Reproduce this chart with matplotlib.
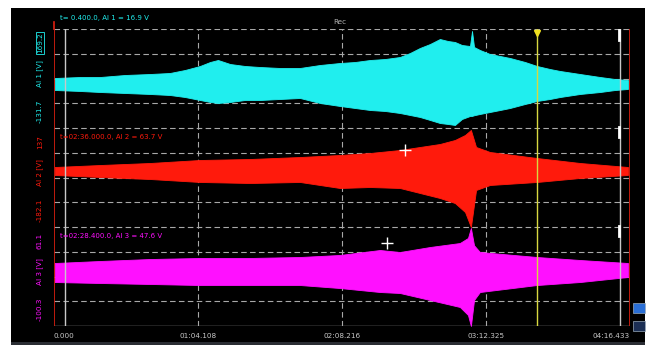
import matplotlib
matplotlib.use("Agg")
import matplotlib.pyplot as plt
from matplotlib.patches import Rectangle
import numpy as np

# ---------------- data ----------------
t_end = 256.433
time_ticks = [0.0, 64.108, 128.216, 192.325, 256.433]
time_labels = ["0.000", "01:04.108", "02:08.216", "03:12.325", "04:16.433"]

# channel 1 (AI 1) envelope, volts
t1 = [0.4, 11.6, 20.5, 31.6, 42.7, 51.6, 58.3, 65.0, 69.5, 73.0, 78.4, 85.0, 91.7,
      100.6, 109.5, 118.4, 127.3, 134.0, 140.7, 147.4, 154.0, 158.5, 162.9, 167.4,
      171.8, 175.4, 178.5, 181.6, 185.2, 186.1, 187.0, 189.6, 194.1, 198.6, 203.0,
      209.7, 215.0, 220.8, 225.3, 234.2, 243.1, 249.8, 255.5]
ai1_hi = [20.3, 23.3, 23.3, 29.4, 32.4, 35.5, 44.6, 56.8, 68.9, 75.0, 62.8, 56.8, 53.7,
          50.7, 50.7, 59.8, 65.9, 68.9, 75.0, 78.0, 84.1, 96.3, 111.5, 123.6,
          138.8, 132.7, 129.7, 120.6, 117.5, 163.1, 114.5, 105.4, 93.2, 87.1, 81.1,
          68.9, 56.8, 47.6, 41.6, 32.4, 23.3, 17.2, 14.2]
ai1_lo = [-16.2, -19.2, -22.3, -25.3, -28.3, -31.4, -37.5, -46.6, -52.6, -55.7, -52.6, -46.6, -46.6,
          -43.5, -40.5, -55.7, -64.8, -70.9, -77.0, -80.0, -86.1, -92.2, -98.2, -107.3,
          -116.5, -119.5, -122.5, -104.3, -95.2, -95.0, -93.0, -89.1, -83.0, -77.0, -70.9,
          -58.7, -49.6, -43.5, -37.5, -28.3, -22.3, -16.2, -13.1]

# channel 2 (AI 2) envelope, volts
t2 = [0.4, 20.5, 42.7, 65.0, 87.3, 109.5, 127.3, 140.7, 154.0, 162.9, 171.8, 178.5,
      183.0, 185.6, 187.9, 194.1, 215.0, 234.2, 255.5]
ai2_hi = [11.3, 17.7, 24.2, 33.9, 37.1, 43.5, 50.0, 56.4, 66.1, 75.8, 85.5, 98.4,
          114.5, 130.6, 75.8, 59.6, 40.3, 24.2, 11.3]
ai2_lo = [-14.5, -20.9, -27.4, -37.0, -40.3, -37.0, -56.4, -53.2, -56.4, -72.5, -88.6, -104.8,
          -133.8, -182.1, -62.8, -46.7, -37.0, -24.1, -14.5]

# channel 3 (AI 3) envelope, volts
t3 = [0.4, 20.5, 42.7, 65.0, 87.3, 109.5, 127.3, 145.1, 154.0, 167.4, 180.7, 184.3,
      185.6, 187.0, 189.6, 215.0, 234.2, 255.5]
ai3_hi = [2.4, 5.7, 8.9, 10.6, 10.6, 12.2, 15.5, 23.6, 20.3, 28.5, 35.0, 43.2,
          59.5, 31.3, 20.3, 12.2, 7.3, 2.4]
ai3_lo = [-28.6, -30.2, -31.8, -33.5, -33.5, -33.5, -38.4, -44.9, -46.5, -57.9, -69.3, -82.3,
          -100.3, -57.9, -44.9, -33.5, -28.6, -20.4]

ranges = [(-131.7, 169.2), (-182.1, 137.0), (-100.3, 61.1)]
range_labels = [("169.2", "-131.7"), ("137", "-182.1"), ("61.1", "-100.3")]
names = ["AI 1 [V]", "AI 2 [V]", "AI 3 [V]"]
readouts = ["t= 0.400.0, AI 1 = 16.9 V", "t=02:36.000.0, AI 2 = 63.7 V", "t=02:28.400.0, AI 3 = 47.6 V"]
colors = ["#20eeee", "#ff1a0c", "#ff10ff"]

cursor_left, cursor_right = 4.9, 251.9
cursor_yellow = 215.0
cross_pts = [(1, 156.3, 66.1), (2, 148.2, 35.0)]

# ---------------- figure ----------------
W, H = 649, 345
fig = plt.figure(figsize=(W / 100, H / 100), dpi=100)
fig.patch.set_facecolor("white")

def fx(x):
    return x / W

def fy(y):
    return 1 - y / H

fig.patches.append(Rectangle((fx(11), fy(342)), fx(645) - fx(11), fy(8) - fy(342),
                             transform=fig.transFigure, facecolor="black", edgecolor="none", zorder=-10))
fig.patches.append(Rectangle((fx(11), fy(345)), fx(645) - fx(11), fy(342) - fy(345),
                             transform=fig.transFigure, facecolor="#2a2d33", edgecolor="none", zorder=-10))

x0, x1 = 54, 630
tops = [29, 128, 227]
ch_h = 99
grid_c = "#a8a8a8"
series = [(t1, ai1_hi, ai1_lo), (t2, ai2_hi, ai2_lo), (t3, ai3_hi, ai3_lo)]

axes = []
for i in range(3):
    ax = fig.add_axes([fx(x0), fy(tops[i] + ch_h), fx(x1) - fx(x0), ch_h / H])
    ax.set_facecolor("none")
    ax.set_xlim(0, t_end)
    lo, hi = ranges[i]
    ax.set_ylim(lo, hi)
    for s in ax.spines.values():
        s.set_visible(False)
    ax.set_xticks([])
    ax.set_yticks([])
    # horizontal grid
    for k in range(5):
        yv = lo + k * (hi - lo) / 4
        if i == 2 and k == 0:
            ax.axhline(yv, color=grid_c, lw=1.0, zorder=1)
        else:
            ax.axhline(yv, color=grid_c, lw=0.8, ls=(0, (5, 3)), zorder=1)
    for tv in time_ticks[1:-1]:
        ax.axvline(tv, color=grid_c, lw=0.8, ls=(0, (5, 3)), zorder=1)
    tt, uh, ul = series[i]
    ax.fill_between(tt, ul, uh, color=colors[i], lw=0.6, edgecolor=colors[i], zorder=2)
    # cursors
    ax.axvline(0.15, color="#e02010", lw=1.2, zorder=4)
    ax.axvline(t_end - 0.15, color="#e02010", lw=1.2, zorder=4)
    ax.axvline(cursor_left, color="#c8c8c8", lw=1.0, zorder=4)
    ax.axvline(cursor_right, color="#c8c8c8", lw=1.0, zorder=4)
    ax.axvline(cursor_yellow, color="#d8d840", lw=1.0, zorder=4)
    axes.append(ax)

    # left labels
    cy = tops[i]
    fig.text(fx(40), fy(cy + 14), range_labels[i][0], color=colors[i], rotation=90,
             fontsize=5.2, ha="center", va="center",
             bbox=dict(boxstyle="square,pad=0.15", fc="none", ec=colors[i], lw=0.6) if i == 0 else None)
    fig.text(fx(40), fy(cy + 45), names[i], color=colors[i], rotation=90,
             fontsize=5.2, ha="center", va="center")
    fig.text(fx(40), fy(cy + 82), range_labels[i][1], color=colors[i], rotation=90,
             fontsize=5.2, ha="center", va="center")

# readouts
readout_y = [18, 137, 236]
for i in range(3):
    fig.text(fx(60), fy(readout_y[i]), readouts[i], color=colors[i], fontsize=5.0,
             ha="left", va="center")
fig.text(fx(340), fy(22), "Rec", color="#b0b0b0", fontsize=5.2, ha="center", va="center")

# crosses
for ci, tc, vc in cross_pts:
    axes[ci].plot([tc], [vc], marker="+", color="white", ms=9, mew=1.0, zorder=5, clip_on=False)

# markers at top of cursors
fig.lines.append(plt.Line2D([fx(537)], [fy(33)], marker="v", color="#f0e020", ms=5,
                            transform=fig.transFigure))
fig.lines.append(plt.Line2D([fx(54), fx(54)], [fy(22), fy(29)], color="#e02010", lw=1.2,
                            transform=fig.transFigure))
for yy in [30, 127, 226]:
    fig.lines.append(plt.Line2D([fx(619), fx(619)], [fy(yy), fy(yy + 10)], color="white", lw=2,
                                transform=fig.transFigure))

# time labels
for tv, lab in zip(time_ticks, time_labels):
    xp = x0 + (x1 - x0) * tv / t_end
    ha = "center"
    if tv == 0:
        ha = "left"
    elif tv == t_end:
        ha = "right"
    fig.text(fx(xp), fy(336), lab, color="#c8c8c8", fontsize=5.2, ha=ha, va="center")

# small widget bottom right
fig.patches.append(Rectangle((fx(633), fy(313)), fx(12), 10 / H, transform=fig.transFigure,
                             facecolor="#2a6fd6", edgecolor="#9ab", lw=0.5))
fig.patches.append(Rectangle((fx(633), fy(331)), fx(12), 10 / H, transform=fig.transFigure,
                             facecolor="#1c2f55", edgecolor="#9ab", lw=0.5))

fig.savefig("out.png", dpi=100, facecolor="white")
